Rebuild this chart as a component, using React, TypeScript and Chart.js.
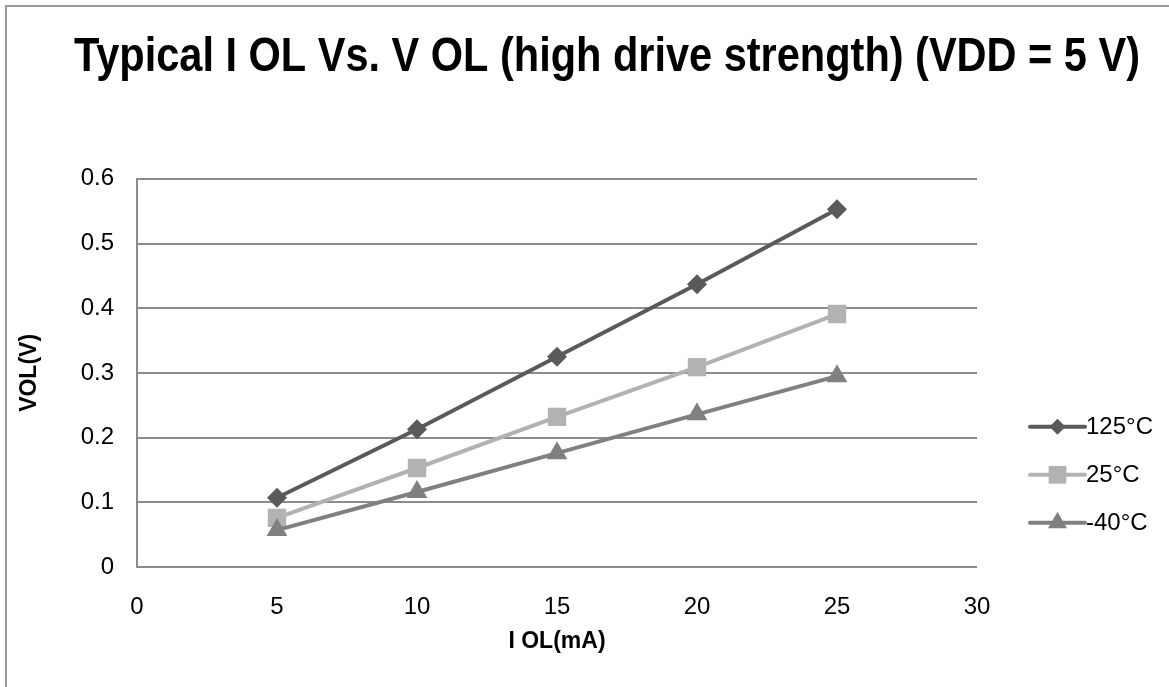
import React, { useEffect, useRef } from 'react';
import { Chart, registerables } from 'chart.js';

Chart.register(...registerables);

const chartTitle = 'Typical I OL Vs. V OL (high drive strength) (VDD = 5 V)';
const xAxisTitle = 'I OL(mA)';
const yAxisTitle = 'VOL(V)';
const ioValues = [5, 10, 15, 20, 25];
const seriesLabels = ['125°C', '25°C', '-40°C'];
const vol125 = [0.107, 0.213, 0.325, 0.437, 0.553];
const vol25 = [0.076, 0.153, 0.232, 0.309, 0.391];
const volMinus40 = [0.057, 0.116, 0.176, 0.236, 0.295];
const seriesColors = ['#5a5a5a', '#b2b2b2', '#808080'];
const seriesStyles = ['rectRot', 'rect', 'triangle'];
const pointRadii = [10, 13, 12];
const legendRadii = [8, 12.5, 11];

const FONT = '"Liberation Sans", Arial, sans-serif';

function drawMarker(ctx: CanvasRenderingContext2D, style: string, x: number, y: number, r: number, color: string) {
  ctx.save();
  ctx.fillStyle = color;
  ctx.beginPath();
  if (style === 'rectRot') {
    ctx.moveTo(x, y - r);
    ctx.lineTo(x + r, y);
    ctx.lineTo(x, y + r);
    ctx.lineTo(x - r, y);
  } else if (style === 'rect') {
    const s = Math.SQRT1_2 * r;
    ctx.rect(x - s, y - s, 2 * s, 2 * s);
  } else {
    let rad = 0;
    ctx.moveTo(x + Math.sin(rad) * r, y - Math.cos(rad) * r);
    rad += (2 * Math.PI) / 3;
    ctx.lineTo(x + Math.sin(rad) * r, y - Math.cos(rad) * r);
    rad += (2 * Math.PI) / 3;
    ctx.lineTo(x + Math.sin(rad) * r, y - Math.cos(rad) * r);
  }
  ctx.closePath();
  ctx.fill();
  ctx.restore();
}

const framePlugin = {
  id: 'frame',
  beforeDraw(chart: any) {
    const ctx = chart.ctx as CanvasRenderingContext2D;
    ctx.save();
    ctx.fillStyle = '#ffffff';
    ctx.fillRect(0, 0, chart.width, chart.height);
    ctx.strokeStyle = '#9a9a9a';
    ctx.lineWidth = 2;
    ctx.beginPath();
    ctx.moveTo(6, chart.height);
    ctx.lineTo(6, 6);
    ctx.lineTo(chart.width, 6);
    ctx.stroke();
    ctx.restore();
  },
};

const sideLegendPlugin = {
  id: 'sideLegend',
  afterDraw(chart: any) {
    const ctx = chart.ctx as CanvasRenderingContext2D;
    const area = chart.chartArea;
    const x0 = area.right + 53;
    chart.data.datasets.forEach((ds: any, i: number) => {
      const y = area.top + 248 + i * 48;
      ctx.save();
      ctx.strokeStyle = ds.borderColor;
      ctx.lineWidth = 4;
      ctx.lineCap = 'round';
      ctx.beginPath();
      ctx.moveTo(x0, y);
      ctx.lineTo(x0 + 55, y);
      ctx.stroke();
      drawMarker(ctx, ds.pointStyle, x0 + 27.5, y, legendRadii[i], ds.backgroundColor);
      ctx.fillStyle = '#000000';
      ctx.font = `24px ${FONT}`;
      ctx.textBaseline = 'middle';
      ctx.textAlign = 'left';
      ctx.fillText(ds.label, x0 + 56, y + 1);
      ctx.restore();
    });
  },
};

export default function App() {
  const canvasRef = useRef<HTMLCanvasElement | null>(null);

  useEffect(() => {
    if (!canvasRef.current) return;
    const series = [vol125, vol25, volMinus40];
    const chart = new Chart(canvasRef.current, {
      type: 'line',
      data: {
        datasets: series.map((vals, i) => ({
          label: seriesLabels[i],
          data: ioValues.map((x, j) => ({ x, y: vals[j] })),
          borderColor: seriesColors[i],
          backgroundColor: seriesColors[i],
          pointBackgroundColor: seriesColors[i],
          pointBorderColor: seriesColors[i],
          pointBorderWidth: 0,
          pointStyle: seriesStyles[i] as any,
          pointRadius: pointRadii[i],
          pointHoverRadius: pointRadii[i],
          borderWidth: 4,
          tension: 0,
          fill: false,
          order: 3 - i,
        })),
      },
      options: {
        animation: false,
        responsive: true,
        maintainAspectRatio: false,
        devicePixelRatio: 1,
        layout: { padding: { left: 74, right: 29, top: 0, bottom: 0 } },
        plugins: {
          legend: { display: false },
          tooltip: { enabled: false },
          title: {
            display: true,
            text: chartTitle,
            color: '#000000',
            font: { family: FONT, size: 49, weight: 'bold', lineHeight: 1.2 },
            padding: { top: 28, bottom: 92 },
          },
        },
        scales: {
          x: {
            type: 'linear',
            min: 0,
            max: 30,
            ticks: { stepSize: 5, color: '#000000', font: { family: FONT, size: 24 }, padding: 26, maxRotation: 0 },
            grid: { display: false, drawTicks: false },
            border: { display: false },
            title: {
              display: true,
              text: xAxisTitle,
              color: '#000000',
              font: { family: FONT, size: 23, weight: 'bold' },
              padding: { top: 0, bottom: 32 },
            },
            afterFit: (scale: any) => {
              scale.height = 120;
            },
          },
          y: {
            type: 'linear',
            min: 0,
            max: 0.6,
            ticks: {
              stepSize: 0.1,
              color: '#000000',
              font: { family: FONT, size: 24 },
              padding: 23,
              callback: (v: any) => String(+Number(v).toFixed(1)),
            },
            grid: { color: '#8c8c8c', lineWidth: 2, drawTicks: false },
            border: { display: true, color: '#8c8c8c', width: 2 },
            title: {
              display: true,
              text: yAxisTitle,
              color: '#000000',
              font: { family: FONT, size: 23, weight: 'bold' },
              padding: { top: -58, bottom: 0 },
            },
            afterFit: (scale: any) => {
              scale.width = 63;
            },
          },
          y2: {
            type: 'linear',
            position: 'right',
            min: 0,
            max: 1,
            display: true,
            ticks: { display: false },
            grid: { display: false, drawOnChartArea: false },
            border: { display: false },
            afterFit: (scale: any) => {
              scale.width = 163;
            },
          },
        },
      },
      plugins: [framePlugin, sideLegendPlugin],
    });
    return () => chart.destroy();
  }, []);

  return (
    <div style={{ position: 'fixed', left: 0, top: 0, width: 1169, height: 687, background: '#ffffff' }}>
      <canvas ref={canvasRef} />
    </div>
  );
}
